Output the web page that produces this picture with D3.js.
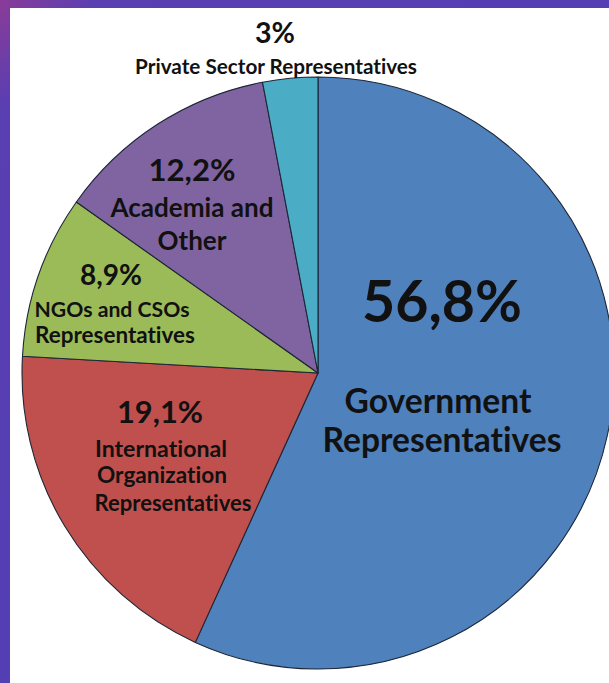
<!DOCTYPE html>
<html>
<head>
<meta charset="utf-8">
<script src="https://cdn.jsdelivr.net/npm/d3@7"></script>
<style>
  html, body { margin: 0; padding: 0; overflow: hidden; }
  svg { display: block; }
</style>
</head>
<body>
<svg id="chart" width="609" height="683"></svg>
<script>
// Data
const categories = [
  "Government Representatives",
  "International Organization Representatives",
  "NGOs and CSOs Representatives",
  "Academia and Other",
  "Private Sector Representatives"
];
const shares = [56.8, 19.1, 8.9, 12.2, 3];
const labelLines = [
  ["Government", "Representatives"],
  ["International", "Organization", "Representatives"],
  ["NGOs and CSOs", "Representatives"],
  ["Academia and", "Other"],
  ["Private Sector Representatives"]
];
const sliceColors = ["#4F81BD", "#C0504D", "#9BBB59", "#8064A2", "#4BACC6"];

// Label placement: [x, baseline y, width] for the percent line then each name line
const labelLayout = [
  [[442, 322, 160], [438, 413, 187], [442, 452, 239]],
  [[160, 423, 86], [161, 457, 132], [162, 483, 130], [173, 511, 157]],
  [[111, 285, 62], [112, 317, 155], [115, 343, 160]],
  [[192, 181, 87], [192, 217, 163], [192, 250, 69]],
  [[275, 43, 40], [276, 74, 282]]
];

const W = 609, H = 683;
const cx = 318, cy = 373, radius = 296;

const svg = d3.select("#chart");

// Purple backdrop with white panel
const defs = svg.append("defs");
const grad = defs.append("linearGradient")
  .attr("id", "bg").attr("x1", 0).attr("y1", 0).attr("x2", 1).attr("y2", 1);
grad.append("stop").attr("offset", "0%").attr("stop-color", "#8a3c98");
grad.append("stop").attr("offset", "8%").attr("stop-color", "#5a3eb2");
grad.append("stop").attr("offset", "100%").attr("stop-color", "#4d3fb8");

svg.append("rect").attr("width", W).attr("height", H).attr("fill", "url(#bg)");
svg.append("rect")
  .attr("x", 10).attr("y", 8)
  .attr("width", W - 10).attr("height", H - 8)
  .attr("fill", "#ffffff");

// Pie
const pie = d3.pie().sort(null).value(d => d);
const arc = d3.arc().innerRadius(0).outerRadius(radius);
const arcs = pie(shares);

const g = svg.append("g").attr("transform", `translate(${cx},${cy})`);
g.selectAll("path.slice")
  .data(arcs)
  .enter()
  .append("path")
  .attr("class", "slice")
  .attr("d", arc)
  .attr("fill", (d, i) => sliceColors[i])
  .attr("stroke", "#1d2636")
  .attr("stroke-width", 1.1)
  .attr("stroke-linejoin", "round");

// Labels
function fmtPct(v) {
  return (Number.isInteger(v) ? String(v) : String(v).replace(".", ",")) + "%";
}

const labels = svg.append("g")
  .style("font-family", "Lato, 'Open Sans', sans-serif")
  .style("font-weight", "bold")
  .style("font-variant-ligatures", "none")
  .attr("fill", "#111111")
  .attr("text-anchor", "middle");

shares.forEach((v, i) => {
  const lines = [fmtPct(v)].concat(labelLines[i]);
  lines.forEach((txt, j) => {
    const [x, y, w] = labelLayout[i][j];
    const t = labels.append("text")
      .attr("x", x).attr("y", y)
      .style("font-size", "20px")
      .text(txt);
    // fit font size to measured width
    const len = t.node().getComputedTextLength();
    t.style("font-size", (20 * w / len).toFixed(2) + "px");
  });
});
</script>
</body>
</html>
